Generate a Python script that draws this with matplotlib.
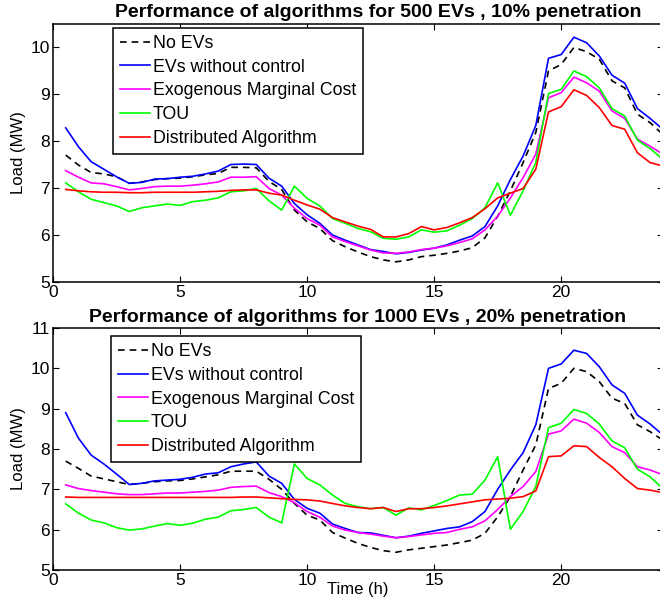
import matplotlib.pyplot as plt

plt.rcParams['font.family'] = ['Liberation Sans', 'DejaVu Sans']

t = [0.5 * (i + 1) for i in range(48)]

labels = ['No EVs', 'EVs without control', 'Exogenous Marginal Cost', 'TOU', 'Distributed Algorithm']
titles = ['Performance of algorithms for 500 EVs , 10% penetration',
          'Performance of algorithms for 1000 EVs , 20% penetration']

# 500 EVs, 10% penetration
noev_500 = [7.70, 7.49, 7.33, 7.30, 7.24, 7.10, 7.13, 7.18, 7.20, 7.21, 7.24, 7.28,
            7.31, 7.44, 7.44, 7.43, 7.14, 6.97, 6.53, 6.28, 6.14, 5.88, 5.75, 5.64,
            5.54, 5.47, 5.43, 5.47, 5.54, 5.57, 5.61, 5.66, 5.73, 5.94, 6.40, 6.94,
            7.54, 8.18, 9.49, 9.63, 9.99, 9.90, 9.74, 9.28, 9.13, 8.57, 8.39, 8.14]
unc_500 = [8.28, 7.88, 7.56, 7.40, 7.24, 7.10, 7.12, 7.19, 7.20, 7.23, 7.25, 7.30,
           7.36, 7.50, 7.51, 7.50, 7.21, 7.04, 6.67, 6.43, 6.25, 6.00, 5.89, 5.79,
           5.69, 5.65, 5.60, 5.63, 5.68, 5.72, 5.79, 5.89, 5.98, 6.18, 6.62, 7.18,
           7.68, 8.33, 9.76, 9.84, 10.21, 10.09, 9.81, 9.40, 9.23, 8.69, 8.48, 8.25]
emc_500 = [7.37, 7.23, 7.11, 7.09, 7.03, 6.96, 6.99, 7.03, 7.04, 7.04, 7.06, 7.09,
           7.13, 7.23, 7.23, 7.24, 6.99, 6.85, 6.57, 6.35, 6.21, 5.96, 5.86, 5.77,
           5.68, 5.62, 5.61, 5.64, 5.69, 5.72, 5.77, 5.84, 5.92, 6.11, 6.40, 6.79,
           7.22, 7.72, 8.92, 9.03, 9.36, 9.24, 9.06, 8.64, 8.48, 8.04, 7.89, 7.72]
tou_500 = [7.11, 6.92, 6.76, 6.69, 6.62, 6.50, 6.58, 6.62, 6.66, 6.63, 6.71, 6.74,
           6.79, 6.92, 6.94, 6.99, 6.73, 6.53, 7.04, 6.78, 6.62, 6.35, 6.25, 6.14,
           6.07, 5.93, 5.91, 5.96, 6.11, 6.06, 6.09, 6.21, 6.35, 6.58, 7.11, 6.42,
           6.94, 7.54, 9.01, 9.10, 9.49, 9.37, 9.13, 8.69, 8.53, 8.02, 7.84, 7.61]
dist_500 = [6.97, 6.94, 6.92, 6.91, 6.91, 6.90, 6.90, 6.91, 6.91, 6.91, 6.91, 6.92,
            6.93, 6.95, 6.96, 6.96, 6.89, 6.85, 6.74, 6.64, 6.55, 6.37, 6.28, 6.19,
            6.12, 5.96, 5.96, 6.03, 6.18, 6.11, 6.16, 6.26, 6.37, 6.56, 6.79, 6.89,
            6.99, 7.40, 8.62, 8.73, 9.09, 8.97, 8.71, 8.33, 8.25, 7.75, 7.54, 7.47]

# 1000 EVs, 20% penetration
noev_1000 = [7.70, 7.52, 7.33, 7.26, 7.19, 7.12, 7.15, 7.19, 7.21, 7.22, 7.26, 7.31,
             7.36, 7.45, 7.45, 7.45, 7.25, 7.00, 6.65, 6.36, 6.24, 5.93, 5.79, 5.66,
             5.56, 5.48, 5.44, 5.50, 5.54, 5.58, 5.62, 5.68, 5.74, 5.91, 6.32, 6.82,
             7.48, 8.10, 9.50, 9.63, 10.00, 9.92, 9.67, 9.26, 9.13, 8.60, 8.43, 8.22]
unc_1000 = [8.90, 8.27, 7.85, 7.63, 7.38, 7.12, 7.15, 7.21, 7.23, 7.25, 7.30, 7.38,
            7.41, 7.56, 7.63, 7.68, 7.33, 7.15, 6.75, 6.53, 6.41, 6.14, 6.03, 5.93,
            5.92, 5.86, 5.80, 5.84, 5.91, 5.97, 6.03, 6.07, 6.20, 6.45, 7.00, 7.48,
            7.91, 8.60, 10.00, 10.11, 10.45, 10.37, 10.04, 9.59, 9.38, 8.84, 8.62, 8.35]
emc_1000 = [7.11, 7.02, 6.97, 6.93, 6.89, 6.87, 6.87, 6.89, 6.91, 6.91, 6.93, 6.95,
            6.98, 7.05, 7.07, 7.08, 6.92, 6.82, 6.67, 6.45, 6.31, 6.09, 5.99, 5.93,
            5.89, 5.84, 5.80, 5.83, 5.87, 5.91, 5.93, 6.01, 6.07, 6.22, 6.50, 6.82,
            7.07, 7.44, 8.37, 8.45, 8.74, 8.64, 8.41, 8.06, 7.91, 7.56, 7.48, 7.36]
tou_1000 = [6.64, 6.41, 6.24, 6.17, 6.05, 5.99, 6.02, 6.09, 6.15, 6.11, 6.16, 6.26,
            6.31, 6.47, 6.50, 6.55, 6.31, 6.17, 7.63, 7.27, 7.11, 6.86, 6.65, 6.57,
            6.52, 6.55, 6.36, 6.54, 6.49, 6.60, 6.72, 6.86, 6.88, 7.23, 7.81, 6.01,
            6.45, 7.07, 8.53, 8.64, 8.98, 8.88, 8.62, 8.20, 8.03, 7.50, 7.31, 7.02]
dist_1000 = [6.81, 6.80, 6.80, 6.80, 6.80, 6.80, 6.80, 6.80, 6.80, 6.80, 6.80, 6.80,
             6.80, 6.80, 6.81, 6.81, 6.79, 6.77, 6.75, 6.74, 6.71, 6.65, 6.59, 6.55,
             6.52, 6.55, 6.45, 6.52, 6.52, 6.55, 6.59, 6.64, 6.69, 6.74, 6.76, 6.78,
             6.82, 6.96, 7.81, 7.83, 8.08, 8.06, 7.79, 7.56, 7.27, 7.02, 6.98, 6.92]

fig = plt.figure(figsize=(6.6, 6.03), dpi=100)
ax1 = fig.add_axes([0.0803, 0.5323, 0.924, 0.4287])
ax2 = fig.add_axes([0.0803, 0.0547, 0.924, 0.4013])

panels = [
    (ax1, [noev_500, unc_500, emc_500, tou_500, dist_500], (5, 10.5), 0.534, 1.025, (0.098, 0.984)),
    (ax2, [noev_1000, unc_1000, emc_1000, tou_1000, dist_1000], (5, 11), 0.5, 1.026, (0.095, 0.967)),
]
styles = [('k', '--'), ('#0000ff', '-'), ('#ff00ff', '-'), ('#00ff00', '-'), ('#ff0000', '-')]

for i, (ax, series, ylim, tx, ty, lpos) in enumerate(panels):
    for s, (c, ls), lab in zip(series, styles, labels):
        ax.plot(t, s, color=c, ls=ls, lw=1.2, label=lab,
                dashes=(4, 3) if ls == '--' else (None, None))
    ax.set_xlim(0, 24)
    ax.set_ylim(*ylim)
    ax.set_xticks([0, 5, 10, 15, 20])
    ax.tick_params(direction='in', top=True, right=True, length=4.5, width=0.8,
                   labelsize=12.5, pad=2)
    for sp in ax.spines.values():
        sp.set_linewidth(1.1)
    ax.set_title(titles[i], fontsize=14, fontweight='bold', x=tx, y=ty,
                 va='baseline', pad=0)
    ax.set_ylabel('Load (MW)', fontsize=12)
    ax.yaxis.set_label_coords(-0.045, 0.5)
    leg = ax.legend(loc='upper left', bbox_to_anchor=lpos, borderaxespad=0,
                    fontsize=12.8, fancybox=False, framealpha=1, edgecolor='k',
                    handlelength=1.7, handletextpad=0.15, labelspacing=0.38,
                    borderpad=0.4)
    leg.get_frame().set_linewidth(1.1)

ax2.set_xlabel('Time (h)', fontsize=12)
ax2.xaxis.set_label_coords(0.5, -0.048)

fig.savefig('out.png', dpi=100)
